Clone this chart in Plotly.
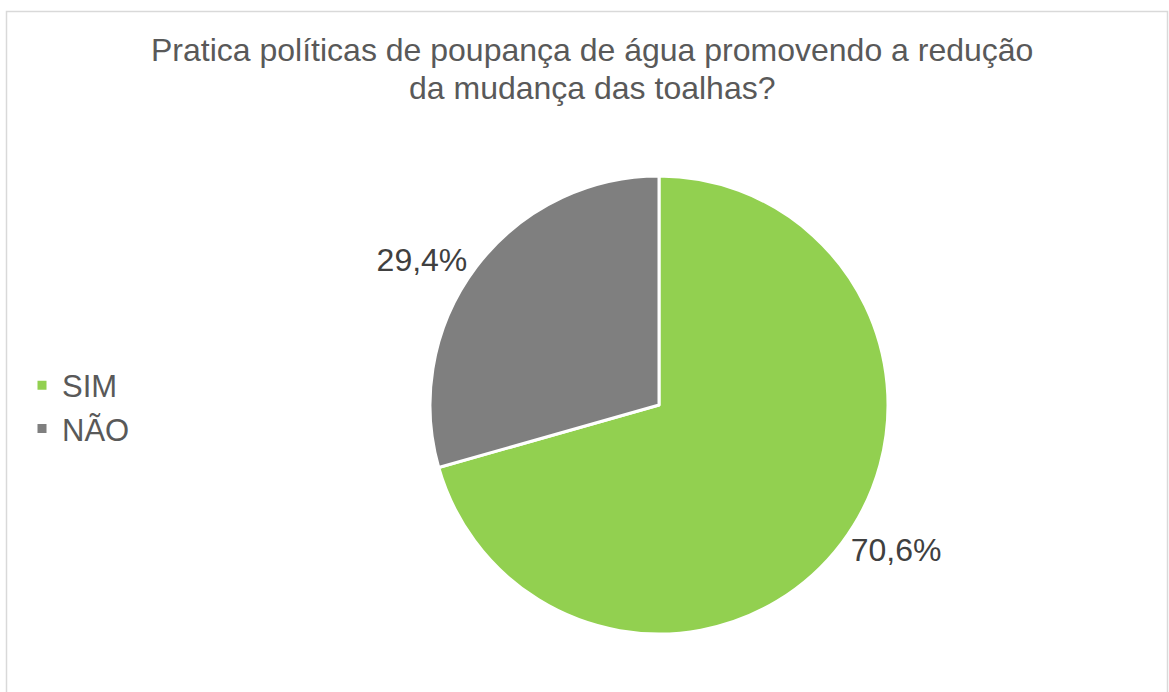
import plotly.graph_objects as go

# data
labels = ["SIM", "NÃO"]
values = [70.6, 29.4]
colors = ["#92D050", "#7F7F7F"]
title_lines = ["Pratica políticas de poupança de água promovendo a redução",
               "da mudança das toalhas?"]

W, H = 1169, 692
FONT = "Liberation Sans, Arial, sans-serif"


def px(x):
    return x / W


def py(y):
    return 1 - y / H


fig = go.Figure()
fig.add_trace(go.Pie(
    labels=labels,
    values=values,
    sort=False,
    direction="clockwise",
    rotation=0,
    marker=dict(colors=colors, line=dict(color="white", width=3)),
    texttemplate="%{value:.1f}%",
    textposition="outside",
    textfont=dict(family=FONT, size=32, color="#404040"),
    hoverinfo="label+percent",
    domain=dict(x=[px(430), px(888)], y=[py(634), py(176)]),
))

# two-line title as separate annotations to keep the wide line spacing
for i, line in enumerate(title_lines):
    fig.add_annotation(
        text=line, x=px(592), y=py(50 + 38 * i),
        xref="paper", yref="paper", xanchor="center", yanchor="middle",
        showarrow=False, font=dict(family=FONT, size=32, color="#595959"),
    )

# chart border
fig.add_shape(type="rect", xref="paper", yref="paper",
              x0=px(6.5), x1=px(1167.5), y0=-0.1, y1=py(11.5),
              line=dict(color="#D9D9D9", width=1.5), layer="below")

fig.update_layout(
    width=W, height=H,
    margin=dict(l=0, r=0, t=0, b=0),
    separators=",.",
    paper_bgcolor="white",
    plot_bgcolor="white",
    showlegend=True,
    legend=dict(x=px(22), y=py(407), xanchor="left", yanchor="middle",
                font=dict(family=FONT, size=31, color="#595959"),
                bgcolor="rgba(0,0,0,0)"),
)

# drop the page's default body margin so the figure sits at the window origin
fig.write_html("out.html",
               config={"displayModeBar": False},
               post_script="document.body.style.margin='0';"
                           "document.body.style.overflow='hidden';")
